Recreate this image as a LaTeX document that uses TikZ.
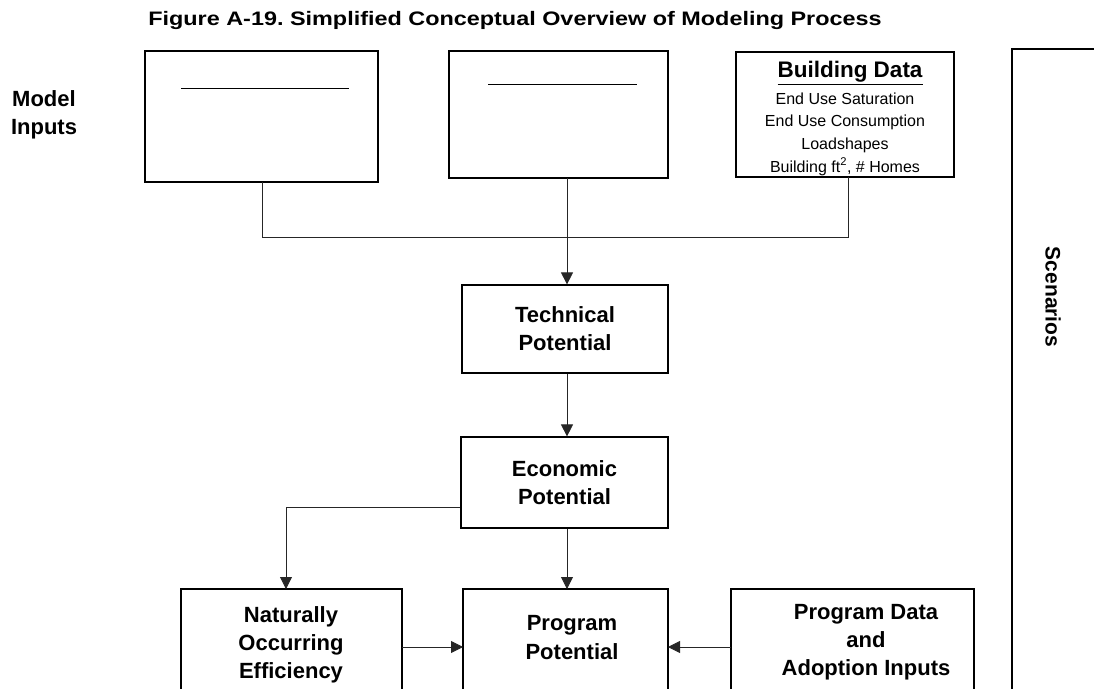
\documentclass[tikz,border=0pt]{standalone}
\usepackage{fontspec}
\setmainfont{Liberation Sans}
\usetikzlibrary{arrows.meta}
\frenchspacing
\begin{document}
\begin{tikzpicture}[x=1pt,y=-1pt,
  box/.style={draw=black,line width=1.2pt,fill=white},
  conn/.style={draw=black!85,line width=0.8pt},
  arr/.style={conn,-{Triangle[length=12pt,width=12pt]}},
  lbl/.style={font=\fontsize{22}{28.2}\selectfont\bfseries,align=center,inner sep=0pt},
  small/.style={font=\fontsize{16}{22.6}\selectfont,align=center,inner sep=0pt}]
\clip (0,0) rectangle (1094,688);
\fill[white] (0,0) rectangle (1094,688);
% title
\node[font=\fontsize{19.5}{22}\selectfont\bfseries,inner sep=0pt,xscale=1.2] (title) at (515,21) {Figure A-19. Simplified Conceptual Overview of Modeling Process};
\node[lbl] (mi) at (44,115) {Model\\Inputs};
% input boxes
\draw[box] (145,51) rectangle (378,182);
\coordinate (b1) at (262,182);
\draw[line width=1pt] (181,88) -- (349,88);
\draw[box] (449,51) rectangle (668,178);
\coordinate (b2) at (567,178);
\draw[line width=1pt] (488,84) -- (637,84);
\draw[box] (736,52) rectangle (954,177);
\coordinate (b3) at (848,177);
\node[inner sep=0pt,font=\fontsize{22.5}{24}\selectfont\bfseries] (bd) at (850,73) {\underline{Building Data}};
\node[small,anchor=north] (bdl) at (845,92.5) {End Use Saturation\\End Use Consumption\\Loadshapes\\Building ft\textsuperscript{2}, \# Homes};
% scenarios
\draw[box] (1012,49) rectangle (1120,720);
\node[lbl,font=\fontsize{21}{24}\selectfont\bfseries,rotate=-90] (sc) at (1053,297) {Scenarios};
% middle boxes
\node[box,minimum width=206pt,minimum height=88pt,lbl] (tech) at (565,329) {Technical\\Potential};
\node[box,minimum width=207pt,minimum height=91pt,lbl] (econ) at (564.5,482.5) {Economic\\Potential};
\draw[box] (181,589) rectangle (402,720);
\node[lbl] (noe) at (291,645) {Naturally\\Occurring\\Efficiency};
\draw[box] (463,589) rectangle (668,720);
\node[lbl] (pp) at (572,637.5) {Program\\Potential};
\draw[box] (731,589) rectangle (974,720);
\node[lbl] (pd) at (866,642) {Program Data\\and\\Adoption Inputs};
\coordinate (noeT) at (286,589);
\coordinate (ppT) at (567,589);
\coordinate (noeR) at (402,647);
\coordinate (ppL) at (463,647);
\coordinate (ppR) at (668,647);
\coordinate (pdL) at (731,647);
\coordinate (j1) at (262,237);
\coordinate (j2) at (567,237);
\coordinate (j3) at (848,237);
% connectors
\draw[conn] (b1) -- (j1) -- (j3) -- (b3);
\draw[conn] (b2) -- (j2);
\draw[arr] (j2) -- (tech.north -| j2);
\draw[arr] (tech.south -| j2) -- (econ.north -| j2);
\draw[arr] (econ.south -| j2) -- (ppT);
\draw[arr] (econ.west |- 0,507) -| (noeT);
\draw[arr] (noeR) -- (ppL);
\draw[arr] (pdL) -- (ppR);
\end{tikzpicture}
\end{document}
